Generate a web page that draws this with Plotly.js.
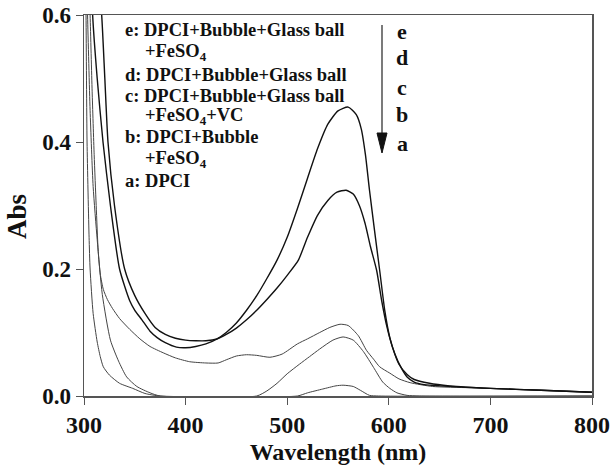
<!DOCTYPE html>
<html>
<head>
<meta charset="utf-8">
<script src="https://cdn.plot.ly/plotly-3.0.1.min.js"></script>
<style>body{margin:0;padding:0;background:#fff;} #chart{width:611px;height:472px;}</style>
</head>
<body>
<div id="chart"></div>
<script>
// Curve e: DPCI+Bubble+Glass ball+FeSO4
var eX = [300,305,308.5,313,318.7,326,335,345,350,357,365,372,380,391,400,410,420,431,440,450,460,470,480,490,500,510,520,530,540,550,560,568,573,577,581,586,591,596,601,606,612,618,625,635,650,700,750,800];
var eY = [1.2,0.8,0.6,0.5,0.4,0.3,0.2,0.15,0.135,0.12,0.102,0.092,0.084,0.077,0.076,0.078,0.082,0.09,0.1,0.115,0.135,0.158,0.185,0.214,0.25,0.295,0.343,0.39,0.428,0.449,0.455,0.443,0.42,0.38,0.324,0.26,0.198,0.135,0.092,0.066,0.045,0.03,0.022,0.018,0.016,0.012,0.009,0.006];
// Curve d: DPCI+Bubble+Glass ball
var dX = [300,310,317.4,320.5,323.6,330,340,350,360,370,380,390,400,410,420,431,440,450,460,470,480,490,500,511,520,530,540,549,558,565,571,576.6,582,588,593,598,604,610,618,625,640,660,700,750,800];
var dY = [1.2,0.75,0.6,0.5,0.4,0.3,0.2,0.158,0.13,0.108,0.097,0.091,0.088,0.087,0.087,0.09,0.097,0.107,0.12,0.135,0.152,0.17,0.19,0.214,0.25,0.285,0.308,0.321,0.324,0.318,0.3,0.272,0.235,0.198,0.15,0.11,0.075,0.05,0.034,0.026,0.02,0.016,0.012,0.009,0.006];
// Curve c: DPCI+Bubble+Glass ball+FeSO4+VC
var cX = [300,303,306,308,310,312,314,316,319,323,328,335,345,355,365,378,390,404,420,432,440,450,460,470,483,495,510,520,532,542,552,560,570,578,585,591,601,610,621,643,680,750,800];
var cY = [1.0,0.75,0.6,0.48,0.38,0.3,0.228,0.192,0.168,0.152,0.138,0.122,0.105,0.09,0.078,0.068,0.06,0.054,0.052,0.052,0.057,0.063,0.065,0.064,0.061,0.066,0.082,0.09,0.1,0.108,0.113,0.111,0.095,0.072,0.058,0.046,0.036,0.027,0.021,0.015,0.013,0.009,0.006];
// Curve b: DPCI+Bubble+FeSO4
var bX = [300,301,303.5,306,309,313,318,326,334,342,352,365,375,470,480,490,500,512,522,532,545,555,565,575,585,594,601,608,618,630,800];
var bY = [1.0,0.8,0.6,0.45,0.33,0.246,0.16,0.088,0.055,0.03,0.015,0.005,0,0,0.008,0.02,0.035,0.05,0.062,0.074,0.088,0.093,0.088,0.07,0.045,0.022,0.012,0.005,0.001,0,0];
// Curve a: DPCI
var aX = [300,302,303,305,306,309,313,316,319,325,335,348,360,375,510,520,535,548,555,565,572,581,590,800];
var aY = [0.9,0.6,0.4,0.25,0.2,0.13,0.085,0.062,0.046,0.033,0.02,0.012,0.004,0,0,0.005,0.011,0.016,0.017,0.015,0.009,0.001,0,0];

var legendLines = ["e: DPCI+Bubble+Glass ball", "+FeSO<sub>4</sub>", "d: DPCI+Bubble+Glass ball", "c: DPCI+Bubble+Glass ball", "+FeSO<sub>4</sub>+VC", "b: DPCI+Bubble", "+FeSO<sub>4</sub>", "a: DPCI"];
var orderLabels = ["e", "d", "c", "b", "a"];
var xTicks = [300, 400, 500, 600, 700, 800];
var yTicks = [0.0, 0.2, 0.4, 0.6];
var yTickText = ["0.0", "0.2", "0.4", "0.6"];

var FONT = "'Liberation Serif', 'Times New Roman', 'DejaVu Serif', serif";

function tr(x, y, color, w) {
  return {x: x, y: y, type: 'scatter', mode: 'lines', line: {color: color, width: w, shape: 'spline', smoothing: 0.6}, hoverinfo: 'skip', showlegend: false};
}
var data = [
  tr(aX, aY, '#444', 1),
  tr(bX, bY, '#444', 1),
  tr(cX, cY, '#444', 1),
  tr(dX, dY, '#111', 1.4),
  tr(eX, eY, '#111', 1.4)
];

var L = 84, R = 592, T = 15, B = 396;
function px(x) { return (x - L) / (R - L); }
function py(y) { return (B - y) / (B - T); }

var annotations = [];
var legX = [123, 143, 123, 123, 143, 123, 143, 123];
var legY = [30, 52, 75, 96, 117, 137, 159, 181];
for (var i = 0; i < legendLines.length; i++) {
  annotations.push({xref: 'paper', yref: 'paper', x: px(legX[i]), y: py(legY[i]), xanchor: 'left', yanchor: 'middle',
    text: '<b>' + legendLines[i] + '</b>', showarrow: false, font: {family: FONT, size: 18.5, color: '#111'}});
}
var ordY = [31, 58, 87, 114, 143];
for (var j = 0; j < orderLabels.length; j++) {
  annotations.push({xref: 'paper', yref: 'paper', x: px(402), y: py(ordY[j]), xanchor: 'center', yanchor: 'middle',
    text: '<b>' + orderLabels[j] + '</b>', showarrow: false, font: {family: FONT, size: 22, color: '#111'}});
}
// y-axis title
annotations.push({xref: 'paper', yref: 'paper', x: px(17), y: py(217), xanchor: 'center', yanchor: 'middle',
  text: '<b>Abs</b>', textangle: -90, showarrow: false, font: {family: FONT, size: 27, color: '#111'}});

var shapes = [
  {type: 'line', xref: 'paper', yref: 'paper', x0: px(382), x1: px(382), y0: py(25), y1: py(140), line: {color: '#222', width: 1.2}},
  {type: 'path', xref: 'paper', yref: 'paper',
   path: 'M ' + px(377) + ' ' + py(133) + ' L ' + px(387) + ' ' + py(133) + ' L ' + px(382) + ' ' + py(153) + ' Z',
   fillcolor: '#111', line: {color: '#111', width: 1}}
];

var layout = {
  width: 611, height: 472,
  margin: {l: L, r: 611 - R, t: T, b: 472 - B, pad: 0},
  paper_bgcolor: '#fff', plot_bgcolor: '#fff',
  font: {family: FONT, color: '#111'},
  xaxis: {
    range: [300, 800], tickvals: xTicks, ticktext: xTicks.map(function(v){return '<b>' + v + '</b>';}),
    ticks: 'outside', ticklen: 7, tickwidth: 1, tickcolor: '#555',
    showline: true, linecolor: '#555', linewidth: 1.5, mirror: true,
    showgrid: false, zeroline: false,
    tickfont: {family: FONT, size: 24, color: '#111'},
    title: {text: '<b>Wavelength (nm)</b>', font: {family: FONT, size: 24, color: '#111'}, standoff: 6}
  },
  yaxis: {
    range: [0, 0.6], tickvals: yTicks, ticktext: yTickText.map(function(v){return '<b>' + v + '</b>';}),
    ticks: 'outside', ticklen: 7, tickwidth: 1, tickcolor: '#555',
    showline: true, linecolor: '#555', linewidth: 1.5, mirror: true,
    showgrid: false, zeroline: false,
    tickfont: {family: FONT, size: 23, color: '#111'}
  },
  annotations: annotations,
  shapes: shapes,
  showlegend: false
};

Plotly.newPlot('chart', data, layout, {displayModeBar: false, staticPlot: true});
</script>
</body>
</html>
